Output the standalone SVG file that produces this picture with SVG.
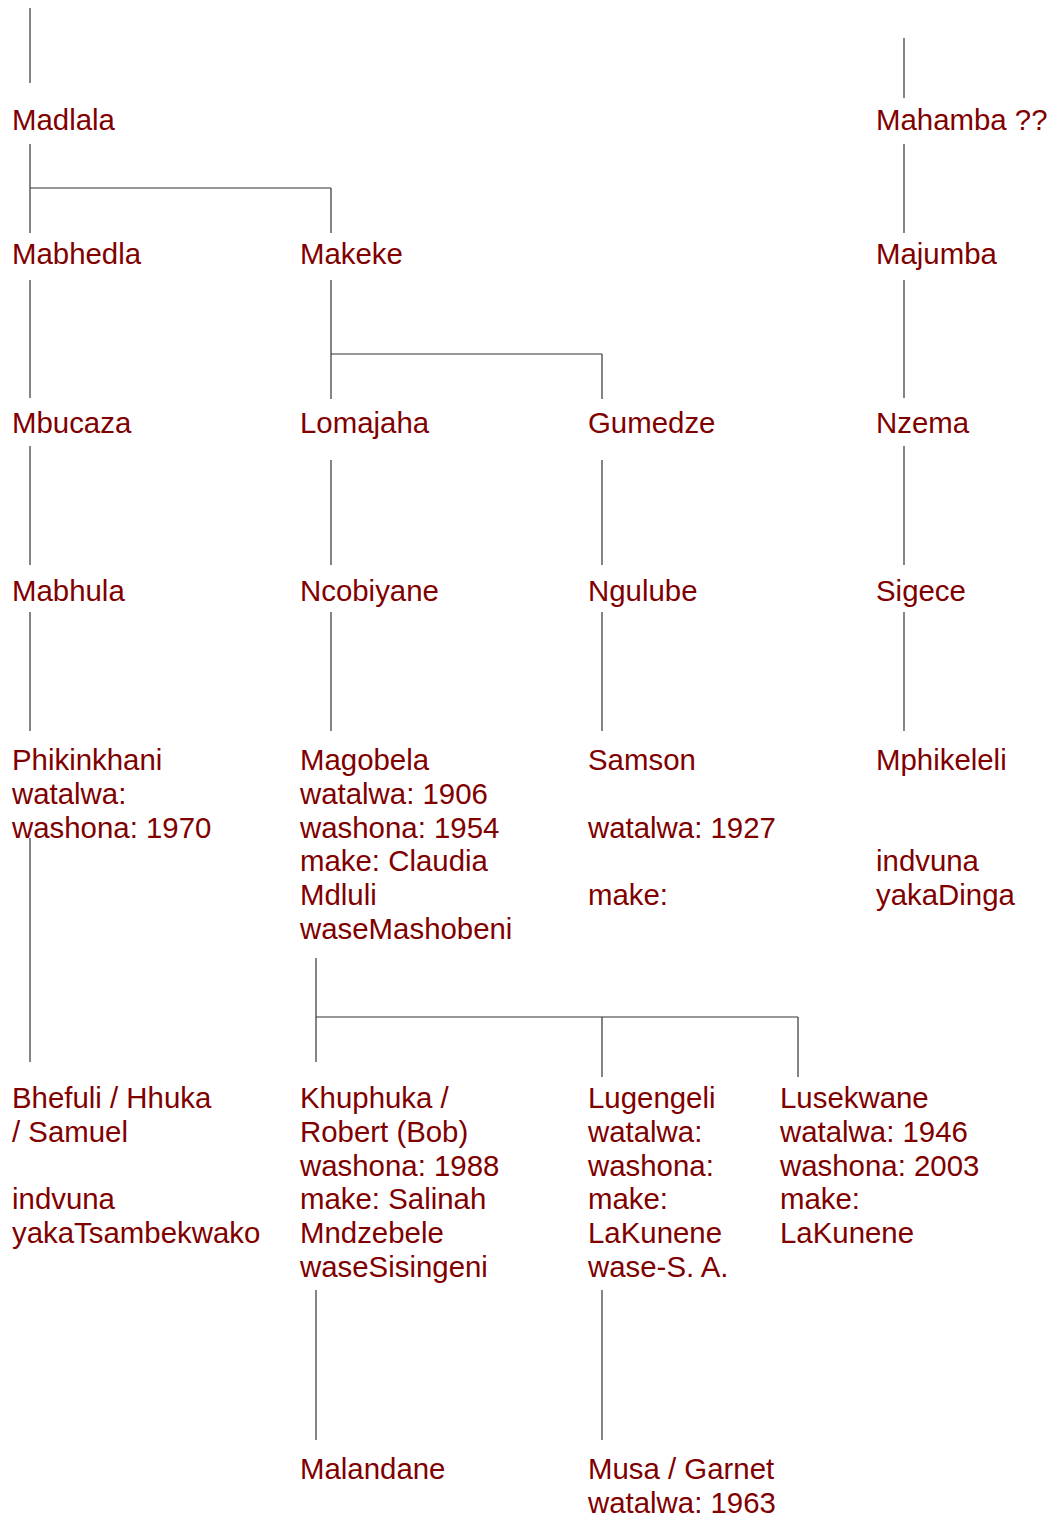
<svg xmlns="http://www.w3.org/2000/svg" width="1049" height="1515" viewBox="0 0 1049 1515">
<style>
text{font-family:"Liberation Sans",Arial,sans-serif;font-size:29.4px;fill:#800000}
#connectors line{stroke:#333;stroke-width:1.2}
</style>
<rect width="1049" height="1515" fill="#fff"/>
<g id="connectors">
<line x1="30" y1="8" x2="30" y2="83"/>
<line x1="30" y1="144" x2="30" y2="233"/>
<line x1="30" y1="188" x2="331" y2="188"/>
<line x1="331" y1="188" x2="331" y2="233"/>
<line x1="30" y1="280" x2="30" y2="398"/>
<line x1="331" y1="280" x2="331" y2="399"/>
<line x1="331" y1="354" x2="602" y2="354"/>
<line x1="602" y1="354" x2="602" y2="399"/>
<line x1="30" y1="446" x2="30" y2="565"/>
<line x1="331" y1="460" x2="331" y2="565"/>
<line x1="602" y1="460" x2="602" y2="565"/>
<line x1="30" y1="612" x2="30" y2="731"/>
<line x1="331" y1="612" x2="331" y2="731"/>
<line x1="602" y1="612" x2="602" y2="731"/>
<line x1="30" y1="838" x2="30" y2="1062"/>
<line x1="316" y1="958" x2="316" y2="1062"/>
<line x1="316" y1="1017" x2="798" y2="1017"/>
<line x1="602" y1="1017" x2="602" y2="1077"/>
<line x1="798" y1="1017" x2="798" y2="1077"/>
<line x1="316" y1="1290" x2="316" y2="1440"/>
<line x1="602" y1="1290" x2="602" y2="1440"/>
<line x1="904" y1="38" x2="904" y2="98"/>
<line x1="904" y1="144" x2="904" y2="233"/>
<line x1="904" y1="280" x2="904" y2="398"/>
<line x1="904" y1="446" x2="904" y2="565"/>
<line x1="904" y1="612" x2="904" y2="731"/>
</g>
<g id="madlala"><text x="12" y="130">Madlala</text></g>
<g id="mahamba"><text x="876" y="130">Mahamba ??</text></g>
<g id="mabhedla"><text x="12" y="264">Mabhedla</text></g>
<g id="makeke"><text x="300" y="264">Makeke</text></g>
<g id="majumba"><text x="876" y="264">Majumba</text></g>
<g id="mbucaza"><text x="12" y="433">Mbucaza</text></g>
<g id="lomajaha"><text x="300" y="433">Lomajaha</text></g>
<g id="gumedze"><text x="588" y="433">Gumedze</text></g>
<g id="nzema"><text x="876" y="433">Nzema</text></g>
<g id="mabhula"><text x="12" y="601">Mabhula</text></g>
<g id="ncobiyane"><text x="300" y="601">Ncobiyane</text></g>
<g id="ngulube"><text x="588" y="601">Ngulube</text></g>
<g id="sigece"><text x="876" y="601">Sigece</text></g>
<g id="phikinkhani"><text x="12" y="770">Phikinkhani<tspan x="12" dy="33.8">watalwa:</tspan><tspan x="12" dy="33.8">washona: 1970</tspan></text></g>
<g id="magobela"><text x="300" y="770">Magobela<tspan x="300" dy="33.8">watalwa: 1906</tspan><tspan x="300" dy="33.8">washona: 1954</tspan><tspan x="300" dy="33.8">make: Claudia</tspan><tspan x="300" dy="33.8">Mdluli</tspan><tspan x="300" dy="33.8">waseMashobeni</tspan></text></g>
<g id="samson"><text x="588" y="770">Samson<tspan x="588" dy="67.6">watalwa: 1927</tspan><tspan x="588" dy="67.6">make:</tspan></text></g>
<g id="mphikeleli"><text x="876" y="770">Mphikeleli<tspan x="876" dy="101.4">indvuna</tspan><tspan x="876" dy="33.8">yakaDinga</tspan></text></g>
<g id="bhefuli"><text x="12" y="1108">Bhefuli / Hhuka<tspan x="12" dy="33.8">/ Samuel</tspan><tspan x="12" dy="67.6">indvuna</tspan><tspan x="12" dy="33.8">yakaTsambekwako</tspan></text></g>
<g id="khuphuka"><text x="300" y="1108">Khuphuka /<tspan x="300" dy="33.8">Robert (Bob)</tspan><tspan x="300" dy="33.8">washona: 1988</tspan><tspan x="300" dy="33.8">make: Salinah</tspan><tspan x="300" dy="33.8">Mndzebele</tspan><tspan x="300" dy="33.8">waseSisingeni</tspan></text></g>
<g id="lugengeli"><text x="588" y="1108">Lugengeli<tspan x="588" dy="33.8">watalwa:</tspan><tspan x="588" dy="33.8">washona:</tspan><tspan x="588" dy="33.8">make:</tspan><tspan x="588" dy="33.8">LaKunene</tspan><tspan x="588" dy="33.8">wase-S. A.</tspan></text></g>
<g id="lusekwane"><text x="780" y="1108">Lusekwane<tspan x="780" dy="33.8">watalwa: 1946</tspan><tspan x="780" dy="33.8">washona: 2003</tspan><tspan x="780" dy="33.8">make:</tspan><tspan x="780" dy="33.8">LaKunene</tspan></text></g>
<g id="malandane"><text x="300" y="1479">Malandane</text></g>
<g id="musa"><text x="588" y="1479">Musa / Garnet<tspan x="588" dy="33.8">watalwa: 1963</tspan></text></g>
</svg>
